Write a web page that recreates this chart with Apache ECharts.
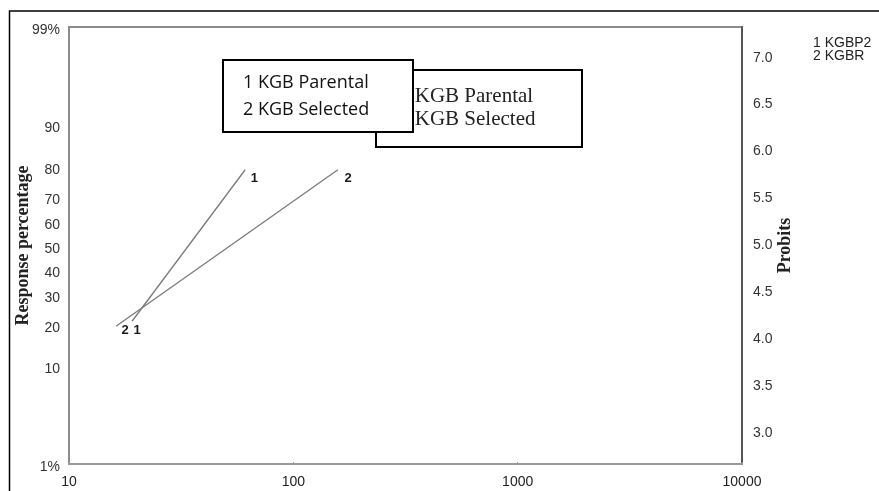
<!DOCTYPE html>
<html>
<head>
<meta charset="utf-8">
<script src="https://cdn.jsdelivr.net/npm/echarts@6/dist/echarts.min.js"></script>
<style>html,body{margin:0;padding:0;background:#fff;}#c{width:879px;height:491px;}</style>
</head>
<body>
<div id="c"></div>
<script>
// ---- data ----
const pctTicks = [1, 10, 20, 30, 40, 50, 60, 70, 80, 90, 99];
const pctTickLabels = ['1%', '10', '20', '30', '40', '50', '60', '70', '80', '90', '99%'];
const probitTicks = [3.0, 3.5, 4.0, 4.5, 5.0, 5.5, 6.0, 6.5, 7.0];
const doseMin = 10, doseMax = 10000;
const line1Dose = [19.1, 61.0];
const line1Pct = [21, 79];
const line2Dose = [16.2, 158];
const line2Pct = [19.5, 79];

// probit transform (inverse normal CDF + 5), Acklam's approximation
function probit(pct) {
  const p = pct / 100;
  const a = [-39.69683028665376, 220.9460984245205, -275.9285104469687, 138.3577518672690, -30.66479806614716, 2.506628277459239];
  const b = [-54.47609879822406, 161.5858368580409, -155.6989798598866, 66.80131188771972, -13.28068155288572];
  const c = [-0.007784894002430293, -0.3223964580411365, -2.400758277161838, -2.549732539343734, 4.374664141464968, 2.938163982698783];
  const d = [0.007784695709041462, 0.3224671290700398, 2.445134137142996, 3.754408661907416];
  const pl = 0.02425;
  let q, r, z;
  if (p < pl) {
    q = Math.sqrt(-2 * Math.log(p));
    z = (((((c[0]*q+c[1])*q+c[2])*q+c[3])*q+c[4])*q+c[5]) / ((((d[0]*q+d[1])*q+d[2])*q+d[3])*q+1);
  } else if (p <= 1 - pl) {
    q = p - 0.5; r = q * q;
    z = (((((a[0]*r+a[1])*r+a[2])*r+a[3])*r+a[4])*r+a[5])*q / (((((b[0]*r+b[1])*r+b[2])*r+b[3])*r+b[4])*r+1);
  } else {
    q = Math.sqrt(-2 * Math.log(1 - p));
    z = -(((((c[0]*q+c[1])*q+c[2])*q+c[3])*q+c[4])*q+c[5]) / ((((d[0]*q+d[1])*q+d[2])*q+d[3])*q+1);
  }
  return z + 5;
}

const yMin = probit(pctTicks[0]);
const yMax = probit(pctTicks[pctTicks.length - 1]);
const pctTickProbits = pctTicks.map(probit);

function pctLabel(v) {
  let best = 0, bd = Infinity;
  pctTickProbits.forEach((pv, i) => { const dd = Math.abs(pv - v); if (dd < bd) { bd = dd; best = i; } });
  return '{a|' + pctTickLabels[best] + '}';
}

const sans = 'Liberation Sans, Arial, sans-serif';
const serif = 'Liberation Serif, Times New Roman, serif';
const labelStyle = { show: true, color: '#1a1a1a', fontFamily: sans, fontSize: 13, fontWeight: 'bold', position: 'right' };

function buildLine(dose, pct, name, startDist, startOff, endDist, endOff) {
  return {
    type: 'line', name: name, yAxisIndex: 1,
    symbol: 'circle', symbolSize: 1, showSymbol: true,
    itemStyle: { color: 'rgba(0,0,0,0)' },
    lineStyle: { color: '#7a7a7a', width: 1.3 },
    animation: false,
    data: dose.map((x, i) => ({
      value: [x, probit(pct[i])],
      label: Object.assign({}, labelStyle, {
        formatter: name,
        distance: i === 0 ? startDist : endDist,
        offset: i === 0 ? startOff : endOff
      })
    }))
  };
}

const chart = echarts.init(document.getElementById('c'));
chart.setOption({
  animation: false,
  grid: { left: 69, right: 137, top: 27, bottom: 27, containLabel: false, outerBoundsMode: 'none', show: true, borderColor: '#8c8c8c', borderWidth: 2 },
  xAxis: {
    type: 'log', logBase: 10, min: doseMin, max: doseMax,
    axisLine: { show: true, lineStyle: { color: '#999', width: 2 } },
    axisTick: { show: true, inside: true, length: 2, lineStyle: { color: '#999' } },
    splitLine: { show: false }, minorTick: { show: false },
    axisLabel: { color: '#222', fontFamily: sans, fontSize: 14, margin: 11, formatter: v => String(Math.round(v)) }
  },
  yAxis: [
    {
      type: 'value', position: 'left', min: yMin, max: yMax,
      name: 'Response percentage', nameLocation: 'middle', nameRotate: 90, nameGap: 37, nameMoveOverlap: false,
      nameTextStyle: { fontFamily: serif, fontSize: 18, fontWeight: 'bold', color: '#222' },
      axisLine: { show: true, lineStyle: { color: '#8c8c8c', width: 2 } },
      axisTick: { show: false },
      splitLine: { show: false },
      axisLabel: {
        customValues: pctTickProbits,
        formatter: pctLabel,
        margin: 9,
        rich: { a: { color: '#333', fontFamily: sans, fontSize: 14, padding: [7, 0, 0, 0] } }
      }
    },
    {
      type: 'value', position: 'right', min: yMin, max: yMax,
      name: 'Probits', nameLocation: 'middle', nameRotate: 90, nameGap: 34, nameMoveOverlap: false,
      nameTextStyle: { fontFamily: serif, fontSize: 18, fontWeight: 'bold', color: '#222' },
      axisLine: { show: true, lineStyle: { color: '#555', width: 2 } },
      axisTick: { show: false },
      splitLine: { show: false },
      axisLabel: {
        customValues: probitTicks,
        formatter: v => v.toFixed(1),
        color: '#333', fontFamily: sans, fontSize: 14, margin: 11
      }
    }
  ],
  series: [
    buildLine(line1Dose, line1Pct, '1', 1, [0, 9], 5, [0, 9]),
    buildLine(line2Dose, line2Pct, '2', 5, [0, 4], 6, [0, 9])
  ],
  graphic: [
    { type: 'rect', z: 100, shape: { x: 9.5, y: 11, width: 900, height: 520 }, style: { fill: 'none', stroke: '#000', lineWidth: 1.5 } },
    { type: 'rect', z: 110, shape: { x: 376, y: 70, width: 206, height: 77 }, style: { fill: '#fff', stroke: '#000', lineWidth: 2 } },
    { type: 'text', z: 111, style: { x: 399, y: 96, text: '1 KGB Parental', fill: '#222', font: '21px "Liberation Serif", serif', textVerticalAlign: 'middle' } },
    { type: 'text', z: 111, style: { x: 399, y: 119, text: '2 KGB Selected', fill: '#222', font: '21px "Liberation Serif", serif', textVerticalAlign: 'middle' } },
    { type: 'rect', z: 120, shape: { x: 223, y: 60, width: 190, height: 72 }, style: { fill: '#fff', stroke: '#000', lineWidth: 2 } },
    { type: 'text', z: 121, style: { x: 243, y: 83, text: '1 KGB Parental', fill: '#111', font: '18px "Open Sans", sans-serif', textVerticalAlign: 'middle' } },
    { type: 'text', z: 121, style: { x: 243, y: 110, text: '2 KGB Selected', fill: '#111', font: '18px "Open Sans", sans-serif', textVerticalAlign: 'middle' } },
    { type: 'text', z: 121, style: { x: 813, y: 43, text: '1 KGBP2', fill: '#222', font: '14px "Liberation Sans", Arial, sans-serif', textVerticalAlign: 'middle' } },
    { type: 'text', z: 121, style: { x: 813, y: 56, text: '2 KGBR', fill: '#222', font: '14px "Liberation Sans", Arial, sans-serif', textVerticalAlign: 'middle' } }
  ]
});
</script>
</body>
</html>
